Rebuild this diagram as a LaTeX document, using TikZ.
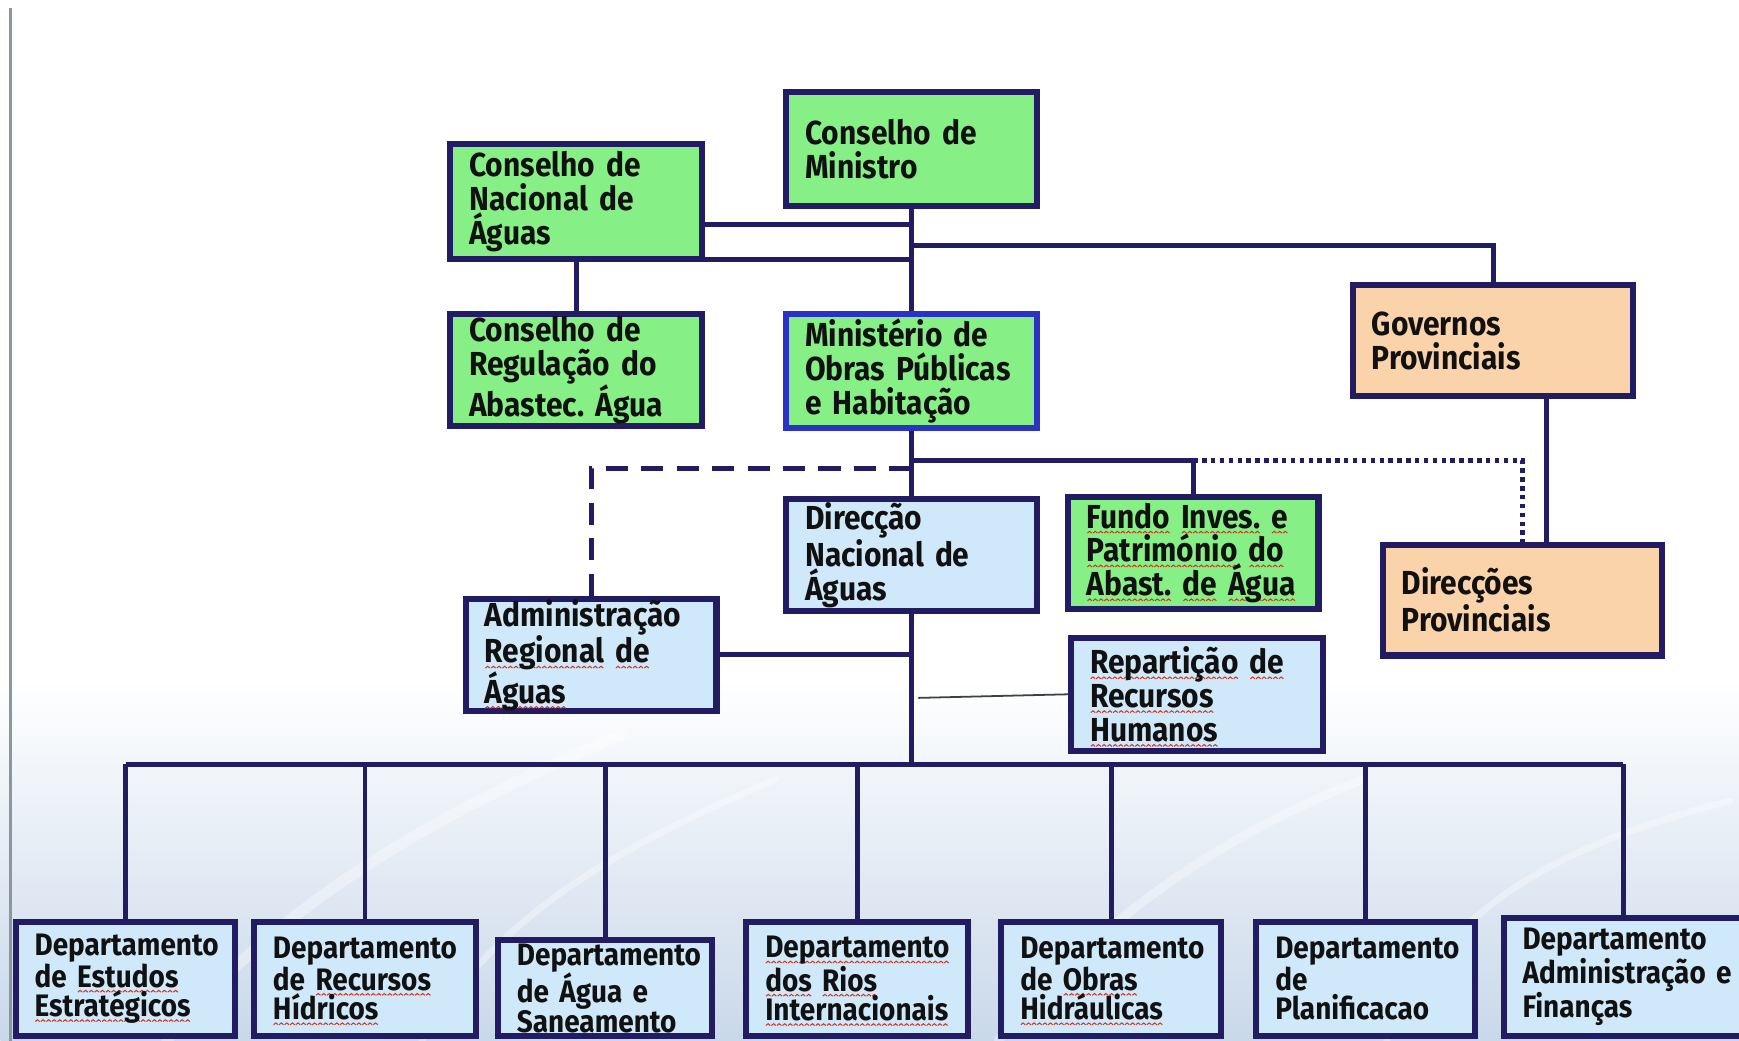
\documentclass[tikz,border=0pt]{standalone}
\usepackage{fontspec}
\setmainfont{Fira Sans}[FakeStretch=0.9]
\usetikzlibrary{calc}
\definecolor{navy}{HTML}{221D63}
\definecolor{boxgreen}{HTML}{86F086}
\definecolor{boxorange}{HTML}{FBD3AA}
\definecolor{boxblue}{HTML}{CFE8FA}
\definecolor{mopblue}{HTML}{2B33C4}
\definecolor{bgblue}{HTML}{C9D8EA}
\definecolor{txt}{HTML}{111111}
\definecolor{edgegray}{HTML}{8A96A3}
\definecolor{spellred}{HTML}{D83018}
\hyphenpenalty=10000
\exhyphenpenalty=10000
\lineskiplimit=-100pt
\newsavebox\zigbox
\newsavebox\spellbox
\newcommand\spellw[1]{\leavevmode\sbox\spellbox{#1}\rlap{\smash{\raisebox{-5pt}{\makebox[\wd\spellbox][l]{\xleaders\copy\zigbox\hfill}}}}#1}
\newcommand{\orgbox}[7]{%
  \pgfmathsetmacro{\obw}{#5-#3-6}\pgfmathsetmacro{\obh}{#6-#4-6}\pgfmathsetmacro{\otw}{#5-#3-6-34}%
  \node[#2, anchor=north west, minimum width=\obw pt, minimum height=\obh pt, text width=\otw pt] (#1) at (#3,#4) {#7};}
\tikzset{
  orgbase/.style={draw=navy, line width=5.5pt, inner xsep=17pt, inner ysep=0pt, align=left,
    font=\bfseries\fontsize{30}{30.5}\selectfont, text=txt},
  greenbox/.style={orgbase, fill=boxgreen},
  orangebox/.style={orgbase, fill=boxorange},
  bluebox/.style={orgbase, fill=boxblue},
  deptbox/.style={orgbase, fill=boxblue, font=\bfseries\fontsize{28}{26.5}\selectfont},
  conn/.style={draw=navy, line width=4.5pt},
  dotconn/.style={conn, dash pattern=on 4pt off 4pt},
  dashconn/.style={conn, dash pattern=on 20pt off 12pt},
  thinconn/.style={draw=black!75, line width=1.6pt}
}
\begin{document}
\begin{tikzpicture}[x=1pt,y=-1pt]
\global\sbox\zigbox{\pgfpicture
  \pgfsetlinewidth{0.9pt}\pgfsetstrokecolor{spellred}%
  \pgfpathmoveto{\pgfpoint{0pt}{0.4pt}}\pgfpathlineto{\pgfpoint{2pt}{2pt}}\pgfpathlineto{\pgfpoint{4pt}{0.4pt}}%
  \pgfusepath{stroke}%
  \pgfpathrectangle{\pgfpointorigin}{\pgfpoint{4pt}{2.4pt}}\pgfusepath{use as bounding box}%
\endpgfpicture}%
\useasboundingbox (0,0) rectangle (1568,936);
% background
\fill[white] (0,0) rectangle (1568,936);
\shade[top color=white, bottom color=bgblue] (0,610) rectangle (1568,936);
\begin{scope}[white, opacity=0.35, line cap=round]
  \draw[line width=10pt] (150,936) .. controls (260,800) and (420,720) .. (560,660);
  \draw[line width=6pt] (380,936) .. controls (450,820) and (560,760) .. (700,700);
  \draw[line width=8pt] (900,936) .. controls (980,840) and (1080,760) .. (1230,700);
  \draw[line width=6pt] (1250,936) .. controls (1300,820) and (1400,760) .. (1560,720);
\end{scope}
\draw[edgegray, line width=2pt] (9,5) -- (9,936);
% boxes
\orgbox{CM}{greenbox}{706}{78}{938}{187}{Conselho~de\\Ministro}
\orgbox{CN}{greenbox}{403}{125}{636}{234}{Conselho~de\\Nacional~de\\Águas}
\orgbox{CR}{greenbox}{403}{278}{636}{385}{Conselho~de\\Regulação~do\\Abastec.~Água}
\orgbox{MOP}{greenbox,draw=mopblue}{706}{278}{938}{387}{Ministério~de\\Obras~Públicas\\e~Habitação}
\orgbox{GP}{orangebox}{1217}{252}{1476}{358}{Governos\\Provinciais}
\orgbox{DNA}{bluebox}{706}{445}{938}{552}{Direcção\\Nacional~de\\Águas}
\orgbox{FI}{greenbox}{960}{443}{1192}{550}{\spellw{Fundo}~\spellw{Inves.}~\spellw{e}\\\spellw{Património}~\spellw{do}\\\spellw{Abast.}~\spellw{de}~\spellw{Água}}
\orgbox{DP}{orangebox}{1244}{486}{1502}{592}{Direcções\\Provinciais}
\orgbox{AR}{bluebox}{417}{535}{649}{642}{Administração\\\spellw{Regional}~\spellw{de}\\\spellw{Águas}}
\orgbox{RH}{bluebox}{963}{570}{1196}{678}{\spellw{Repartição}~\spellw{de}\\\spellw{Recursos}\\\spellw{Humanos}}
\orgbox{D1}{deptbox}{11}{826}{215}{935}{Departamento\\de~\spellw{Estudos}\\\spellw{Estratégicos}}
\orgbox{D2}{deptbox}{226}{826}{432}{935}{Departamento\\de~\spellw{Recursos}\\\spellw{Hídricos}}
\orgbox{D3}{deptbox}{446}{843}{645}{935}{Departamento\\de~Água~e\\Saneamento}
\orgbox{D4}{deptbox}{670}{826}{876}{935}{\spellw{Departamento}\\\spellw{dos}~\spellw{Rios}\\\spellw{Internacionais}}
\orgbox{D5}{deptbox}{900}{826}{1104}{935}{Departamento\\de~\spellw{Obras}\\\spellw{Hidráulicas}}
\orgbox{D6}{deptbox}{1130}{826}{1333}{935}{Departamento\\de\\Planificacao}
\orgbox{D7}{deptbox}{1353}{823}{1575}{935}{Departamento\\Administração~e\\Finanças}
% helper levels
\coordinate (hA) at (0,200);
\coordinate (hB) at (0,232);
\coordinate (hC) at (0,219);
\coordinate (hD) at (0,413);
\coordinate (hE) at (0,420);
\coordinate (hR) at (0,627);
\coordinate (bus) at (0,687);
% connectors
\draw[conn] (CM.south) -- (MOP.north);
\draw[conn] (CN.east |- hA) -- (CM.south |- hA);
\draw[conn] (CN.east |- hB) -- (CM.south |- hB);
\draw[conn] (CM.south |- hC) -| (GP.north);
\draw[conn] (CN.south) -- (CR.north);
\draw[conn] ([xshift=48pt]GP.south) -- ([xshift=48pt]GP.south |- DP.north);
\draw[conn] (MOP.south) -- (DNA.north);
\draw[conn] (MOP.south |- hD) -| (FI.north);
\draw[dotconn] (FI.north |- hD) -| (DP.north);
\draw[dashconn] (AR.north) |- (MOP.south |- hE);
\draw[conn] (DNA.south) -- (DNA.south |- bus);
\draw[conn] (AR.east) -- (AR.east -| DNA.south);
\draw[thinconn] ([xshift=6pt]DNA.south |- hR) -- (RH.west);
\draw[conn] (D1.north |- bus) -- (D7.north |- bus);
\foreach \d in {D1,D2,D3,D4,D5,D6,D7} \draw[conn] (\d.north) -- (\d.north |- bus);
\end{tikzpicture}
\end{document}
